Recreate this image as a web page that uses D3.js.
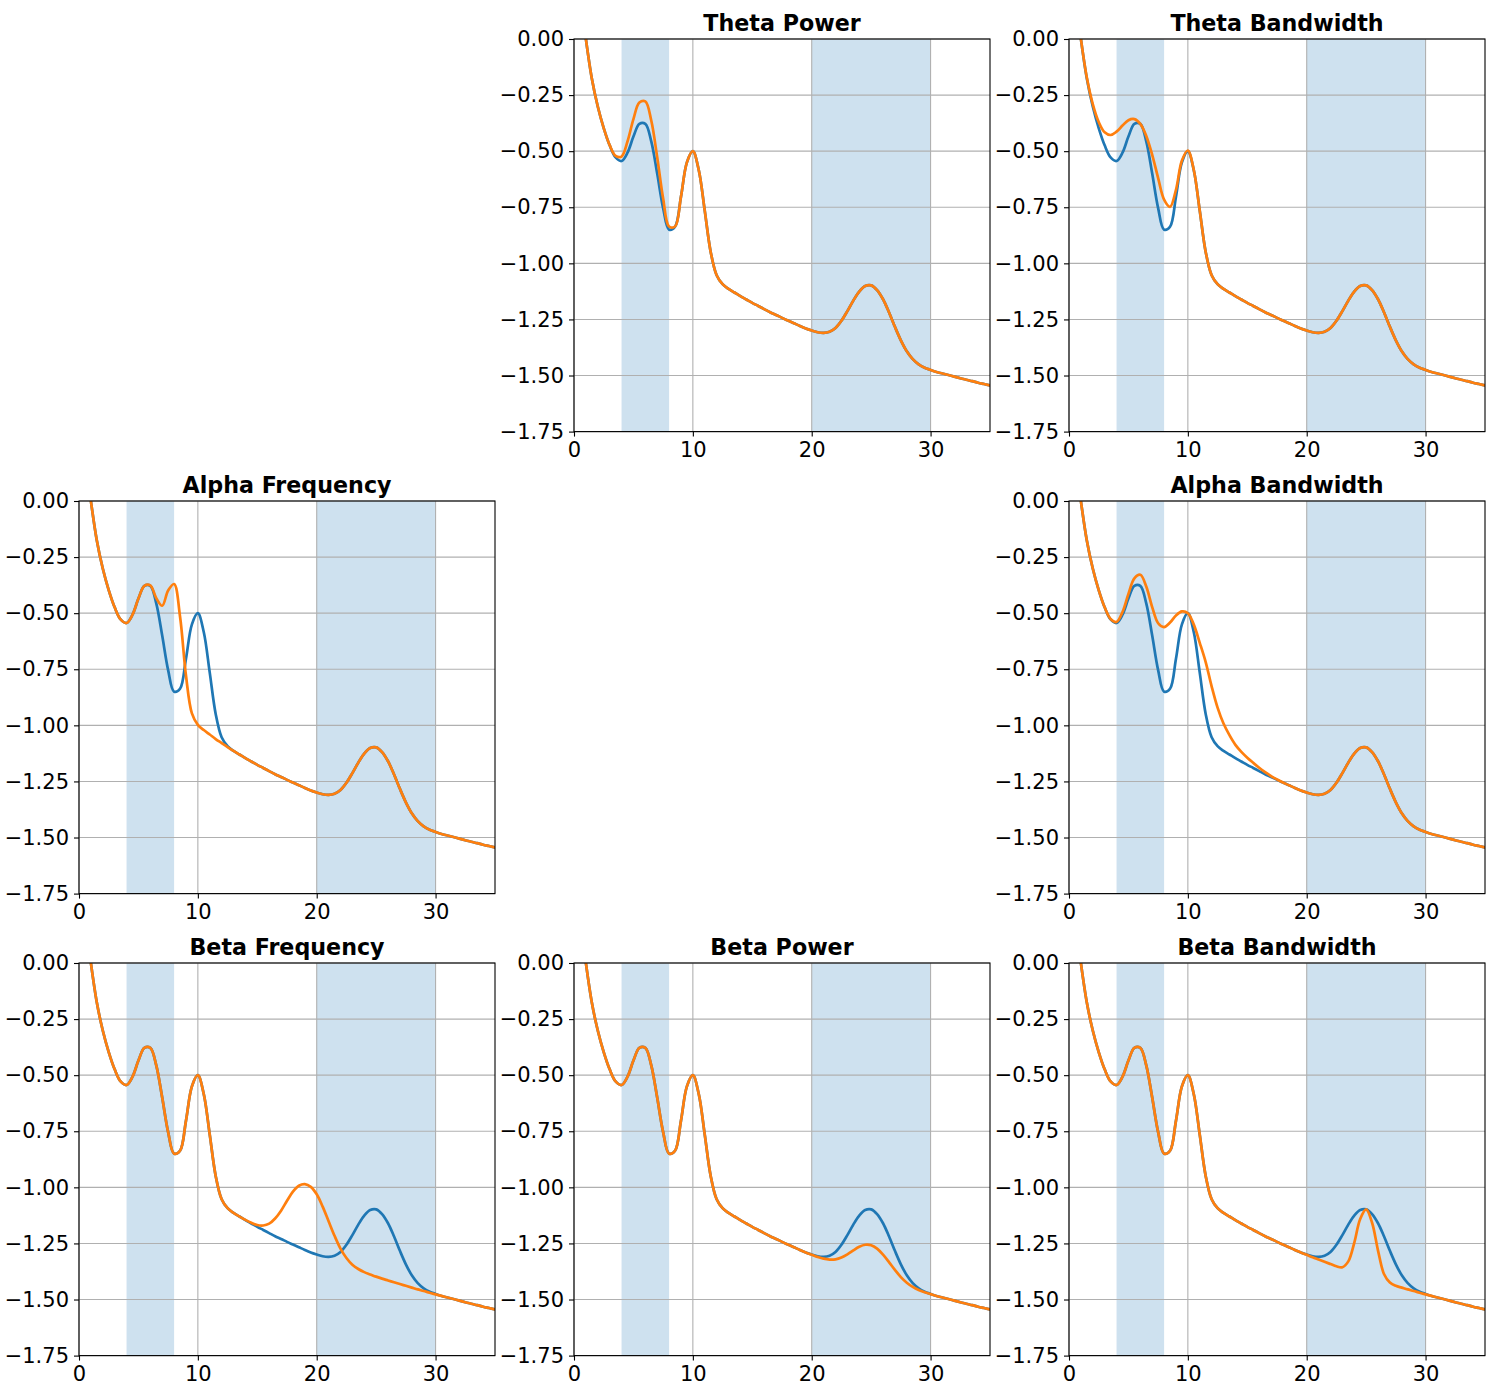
<!DOCTYPE html>
<html><head><meta charset="utf-8">
<script src="https://cdn.jsdelivr.net/npm/d3@7"></script>
<style>body{margin:0;background:#fff}svg{display:block}text{font-family:"DejaVu Sans",sans-serif}</style>
</head><body><svg id="chart" width="1500" height="1400"></svg>
<script>
const freqs = [1,1.5,2,2.5,3,3.5,4,4.5,5,5.5,6,6.5,7,7.5,8,8.5,9,9.5,10,10.5,11,11.5,12,12.5,13,13.5,14,14.5,15,15.5,16,16.5,17,17.5,18,18.5,19,19.5,20,20.5,21,21.5,22,22.5,23,23.5,24,24.5,25,25.5,26,26.5,27,27.5,28,28.5,29,29.5,30,30.5,31,31.5,32,32.5,33,33.5,34,34.5,35];

const baselineSpectrum = [0.000,-0.176,-0.301,-0.397,-0.474,-0.528,-0.544,-0.507,-0.435,-0.378,
 -0.378,-0.456,-0.600,-0.754,-0.850,-0.837,-0.703,-0.550,-0.500,-0.585,
 -0.765,-0.949,-1.053,-1.093,-1.114,-1.130,-1.146,-1.161,-1.176,-1.190,
 -1.204,-1.218,-1.230,-1.243,-1.255,-1.267,-1.279,-1.290,-1.299,-1.307,
 -1.310,-1.305,-1.288,-1.256,-1.213,-1.166,-1.126,-1.101,-1.098,-1.119,
 -1.160,-1.218,-1.283,-1.343,-1.392,-1.427,-1.450,-1.465,-1.475,-1.484,
 -1.491,-1.498,-1.505,-1.512,-1.519,-1.525,-1.532,-1.538,-1.544];

const thetaPowerSpectrum = [0.000,-0.176,-0.301,-0.397,-0.473,-0.521,-0.524,-0.457,-0.357,-0.283,
 -0.278,-0.363,-0.527,-0.711,-0.836,-0.836,-0.703,-0.550,-0.500,-0.585,
 -0.765,-0.949,-1.053,-1.093,-1.114,-1.130,-1.146,-1.161,-1.176,-1.190,
 -1.204,-1.218,-1.230,-1.243,-1.255,-1.267,-1.279,-1.290,-1.299,-1.307,
 -1.310,-1.305,-1.288,-1.256,-1.213,-1.166,-1.126,-1.101,-1.098,-1.119,
 -1.160,-1.218,-1.283,-1.343,-1.392,-1.427,-1.450,-1.465,-1.475,-1.484,
 -1.491,-1.498,-1.505,-1.512,-1.519,-1.525,-1.532,-1.538,-1.544];

const thetaBandwidthSpectrum = [0.001,-0.172,-0.290,-0.370,-0.416,-0.428,-0.413,-0.386,-0.362,-0.357,
 -0.378,-0.432,-0.516,-0.620,-0.716,-0.748,-0.672,-0.542,-0.497,-0.584,
 -0.765,-0.949,-1.053,-1.093,-1.114,-1.130,-1.146,-1.161,-1.176,-1.190,
 -1.204,-1.218,-1.230,-1.243,-1.255,-1.267,-1.279,-1.290,-1.299,-1.307,
 -1.310,-1.305,-1.288,-1.256,-1.213,-1.166,-1.126,-1.101,-1.098,-1.119,
 -1.160,-1.218,-1.283,-1.343,-1.392,-1.427,-1.450,-1.465,-1.475,-1.484,
 -1.491,-1.498,-1.505,-1.512,-1.519,-1.525,-1.532,-1.538,-1.544];

const alphaFrequencySpectrum = [0.000,-0.176,-0.301,-0.397,-0.474,-0.528,-0.544,-0.507,-0.435,-0.378,
 -0.376,-0.433,-0.467,-0.399,-0.370,-0.515,-0.778,-0.947,-0.998,-1.021,
 -1.041,-1.061,-1.079,-1.097,-1.114,-1.130,-1.146,-1.161,-1.176,-1.190,
 -1.204,-1.218,-1.230,-1.243,-1.255,-1.267,-1.279,-1.290,-1.299,-1.307,
 -1.310,-1.305,-1.288,-1.256,-1.213,-1.166,-1.126,-1.101,-1.098,-1.119,
 -1.160,-1.218,-1.283,-1.343,-1.392,-1.427,-1.450,-1.465,-1.475,-1.484,
 -1.491,-1.498,-1.505,-1.512,-1.519,-1.525,-1.532,-1.538,-1.544];

const alphaBandwidthSpectrum = [0.000,-0.176,-0.301,-0.397,-0.474,-0.526,-0.539,-0.495,-0.414,-0.345,
 -0.329,-0.381,-0.473,-0.545,-0.562,-0.542,-0.510,-0.492,-0.500,-0.551,
 -0.632,-0.718,-0.826,-0.921,-0.992,-1.044,-1.087,-1.118,-1.144,-1.167,
 -1.189,-1.209,-1.226,-1.241,-1.255,-1.267,-1.279,-1.290,-1.299,-1.307,
 -1.310,-1.305,-1.288,-1.256,-1.213,-1.166,-1.126,-1.101,-1.098,-1.119,
 -1.160,-1.218,-1.283,-1.343,-1.392,-1.427,-1.450,-1.465,-1.475,-1.484,
 -1.491,-1.498,-1.505,-1.512,-1.519,-1.525,-1.532,-1.538,-1.544];

const betaFrequencySpectrum = [0.000,-0.176,-0.301,-0.397,-0.474,-0.528,-0.544,-0.507,-0.435,-0.378,
 -0.378,-0.456,-0.600,-0.754,-0.850,-0.837,-0.703,-0.550,-0.500,-0.585,
 -0.765,-0.949,-1.053,-1.093,-1.114,-1.130,-1.145,-1.158,-1.168,-1.170,
 -1.162,-1.139,-1.104,-1.060,-1.019,-0.993,-0.986,-0.998,-1.031,-1.086,
 -1.151,-1.216,-1.273,-1.315,-1.345,-1.364,-1.378,-1.388,-1.398,-1.407,
 -1.415,-1.423,-1.431,-1.439,-1.447,-1.455,-1.462,-1.470,-1.477,-1.484,
 -1.491,-1.498,-1.505,-1.512,-1.519,-1.525,-1.532,-1.538,-1.544];

const betaPowerSpectrum = [0.000,-0.176,-0.301,-0.397,-0.474,-0.528,-0.544,-0.507,-0.435,-0.378,
 -0.378,-0.456,-0.600,-0.754,-0.850,-0.837,-0.703,-0.550,-0.500,-0.585,
 -0.765,-0.949,-1.053,-1.093,-1.114,-1.130,-1.146,-1.161,-1.176,-1.190,
 -1.204,-1.218,-1.230,-1.243,-1.255,-1.267,-1.279,-1.290,-1.300,-1.310,
 -1.318,-1.322,-1.321,-1.313,-1.299,-1.281,-1.265,-1.256,-1.258,-1.273,
 -1.300,-1.333,-1.368,-1.400,-1.425,-1.444,-1.458,-1.468,-1.476,-1.484,
 -1.491,-1.498,-1.505,-1.512,-1.519,-1.525,-1.532,-1.538,-1.544];

const betaBandwidthSpectrum = [0.000,-0.176,-0.301,-0.397,-0.474,-0.528,-0.544,-0.507,-0.435,-0.378,
 -0.378,-0.456,-0.600,-0.754,-0.850,-0.837,-0.703,-0.550,-0.500,-0.585,
 -0.765,-0.949,-1.053,-1.093,-1.114,-1.130,-1.146,-1.161,-1.176,-1.190,
 -1.204,-1.218,-1.230,-1.243,-1.255,-1.267,-1.279,-1.290,-1.301,-1.312,
 -1.322,-1.332,-1.342,-1.352,-1.356,-1.330,-1.247,-1.141,-1.098,-1.158,
 -1.282,-1.386,-1.424,-1.439,-1.447,-1.455,-1.462,-1.470,-1.477,-1.484,
 -1.491,-1.498,-1.505,-1.512,-1.519,-1.525,-1.532,-1.538,-1.544];

const bandRanges = [[4, 8], [20, 30]];
const xTickValues = [0, 10, 20, 30];
const yTickValues = [0, -0.25, -0.5, -0.75, -1.0, -1.25, -1.5, -1.75];
const panelTitles = ['Theta Power', 'Theta Bandwidth', 'Alpha Frequency', 'Alpha Bandwidth',
                     'Beta Frequency', 'Beta Power', 'Beta Bandwidth'];
const panelSlots = [[0, 1], [0, 2], [1, 0], [1, 2], [2, 0], [2, 1], [2, 2]];
const panelSpectra = [thetaPowerSpectrum, thetaBandwidthSpectrum, alphaFrequencySpectrum,
  alphaBandwidthSpectrum, betaFrequencySpectrum, betaPowerSpectrum, betaBandwidthSpectrum];

const svg = d3.select('#chart');
svg.append('rect').attr('width', 1500).attr('height', 1400).attr('fill', '#fff');

const colLeft = [79, 574, 1069];
const rowTop = [39, 501, 963];
const W = 416, H = 392.6;

const x = d3.scaleLinear().domain([0, 35]).range([0, W]);
const y = d3.scaleLinear().domain([-1.75, 0]).range([H, 0]);
const line = d3.line().x((d, i) => x(freqs[i])).y(d => y(d)).curve(d3.curveCatmullRom);

panelTitles.forEach((title, i) => {
  const [r, c] = panelSlots[i];
  const g = svg.append('g').attr('transform', `translate(${colLeft[c]},${rowTop[r]})`);
  const clipId = 'clip' + i;
  g.append('clipPath').attr('id', clipId).append('rect').attr('width', W).attr('height', H);

  g.selectAll('rect.band').data(bandRanges).join('rect').attr('class', 'band')
    .attr('x', d => x(d[0])).attr('width', d => x(d[1]) - x(d[0]))
    .attr('y', 0).attr('height', H).attr('fill', '#1f77b4').attr('fill-opacity', 0.22);

  g.selectAll('line.gx').data(xTickValues).join('line').attr('class', 'gx')
    .attr('x1', d => x(d)).attr('x2', d => x(d)).attr('y1', 0).attr('y2', H)
    .attr('stroke', '#b0b0b0').attr('stroke-width', 1.1);
  g.selectAll('line.gy').data(yTickValues).join('line').attr('class', 'gy')
    .attr('y1', d => y(d)).attr('y2', d => y(d)).attr('x1', 0).attr('x2', W)
    .attr('stroke', '#b0b0b0').attr('stroke-width', 1.1);

  const lines = g.append('g').attr('clip-path', `url(#${clipId})`);
  lines.append('path').datum(baselineSpectrum).attr('d', line)
    .attr('fill', 'none').attr('stroke', '#1f77b4').attr('stroke-width', 2.7)
    .attr('stroke-linejoin', 'round').attr('stroke-linecap', 'square');
  lines.append('path').datum(panelSpectra[i]).attr('d', line)
    .attr('fill', 'none').attr('stroke', '#ff7f0e').attr('stroke-width', 2.7)
    .attr('stroke-linejoin', 'round').attr('stroke-linecap', 'square');

  const yAxis = g.append('g').call(d3.axisLeft(y).tickValues(yTickValues)
    .tickFormat(d3.format('.2f')).tickSize(5).tickPadding(5));
  const xAxis = g.append('g').attr('transform', `translate(0,${H})`)
    .call(d3.axisBottom(x).tickValues(xTickValues).tickSize(5).tickPadding(5.5));
  [yAxis, xAxis].forEach(a => {
    a.select('.domain').remove();
    a.selectAll('.tick line').attr('stroke', '#000').attr('stroke-width', 1.1);
    a.selectAll('.tick text').attr('fill', '#000').style('font-size', '21px')
      .style('font-family', '"DejaVu Sans", sans-serif');
  });

  g.append('rect').attr('width', W).attr('height', H).attr('fill', 'none')
    .attr('stroke', '#000').attr('stroke-width', 1.1);

  g.append('text').attr('x', W / 2).attr('y', -8.3).attr('text-anchor', 'middle')
    .style('font-size', '22.2px').style('font-weight', 'bold').attr('fill', '#000').text(title);
});
</script></body></html>
